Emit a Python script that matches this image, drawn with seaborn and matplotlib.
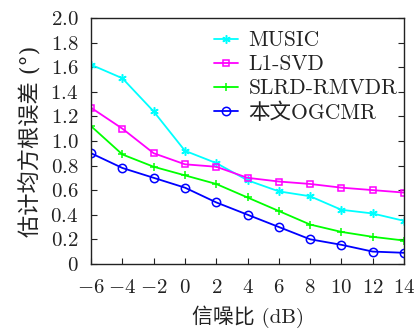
import matplotlib
matplotlib.use("Agg")
import matplotlib.pyplot as plt
import seaborn as sns
import pandas as pd

snr = [-6, -4, -2, 0, 2, 4, 6, 8, 10, 12, 14]
music = [1.62, 1.51, 1.24, 0.92, 0.82, 0.68, 0.59, 0.55, 0.44, 0.41, 0.35]
l1svd = [1.27, 1.10, 0.90, 0.81, 0.79, 0.70, 0.67, 0.65, 0.62, 0.60, 0.58]
slrd = [1.12, 0.89, 0.79, 0.72, 0.65, 0.54, 0.43, 0.32, 0.26, 0.22, 0.19]
ogcmr = [0.90, 0.78, 0.70, 0.62, 0.50, 0.40, 0.30, 0.20, 0.155, 0.10, 0.09]
series_names = ["MUSIC", "L1-SVD", "SLRD-RMVDR", "本文OGCMR"]
xtick_vals = [-6, -4, -2, 0, 2, 4, 6, 8, 10, 12, 14]
xtick_labels = ["$-6$", "$-4$", "$-2$", "$0$", "$2$", "$4$", "$6$", "$8$", "$10$", "$12$", "$14$"]
ytick_vals = [0, 0.2, 0.4, 0.6, 0.8, 1.0, 1.2, 1.4, 1.6, 1.8, 2.0]
ytick_labels = ["$0$", "$0.2$", "$0.4$", "$0.6$", "$0.8$", "$1.0$", "$1.2$", "$1.4$", "$1.6$", "$1.8$", "$2.0$"]

sns.set_theme(style="ticks")
plt.rcParams["font.family"] = ["cmr10", "Noto Sans CJK SC", "DejaVu Serif"]
plt.rcParams["mathtext.fontset"] = "cm"
plt.rcParams["axes.unicode_minus"] = False

df = pd.DataFrame({
    "snr": snr * 4,
    "rmse": music + l1svd + slrd + ogcmr,
    "method": [series_names[0]] * 11 + [series_names[1]] * 11 + [series_names[2]] * 11 + [series_names[3]] * 11,
})

fig = plt.figure(figsize=(4.16, 3.34), dpi=100)
ax = fig.add_axes([0.219, 0.21, 0.752, 0.736])

colors = ["#00FFFF", "#FF00FF", "#00FF00", "#0000FF"]
markers = [(6, 2, 0), "s", "+", "o"]
for name, c, m in zip(series_names, colors, markers):
    sub = df[df["method"] == name]
    sns.lineplot(data=sub, x="snr", y="rmse", ax=ax, color=c, marker=m,
                 markersize=6 if m != "s" else 5, markerfacecolor="none",
                 markeredgecolor=c, markeredgewidth=1.1, linewidth=1.3,
                 label=name)

ax.set_xlim(-6, 14)
ax.set_ylim(0, 2.0)
ax.set_xticks(xtick_vals)
ax.set_xticklabels(xtick_labels)
ax.set_yticks(ytick_vals)
ax.set_yticklabels(ytick_labels)
ax.tick_params(axis="both", direction="in", labelsize=15, length=4, width=0.8,
               colors="#222222")
ax.tick_params(axis="x", pad=11)
ax.tick_params(axis="y", right=True, left=True, pad=9)
ax.tick_params(axis="x", top=False)
for sp in ax.spines.values():
    sp.set_linewidth(1.0)
    sp.set_color("#222222")

ax.set_xlabel("信噪比 (dB)", fontsize=15, color="#222222", labelpad=6)
ax.set_ylabel("估计均方根误差 (°)", fontsize=16, color="#222222", labelpad=6,
              family=["DejaVu Serif", "Noto Sans CJK SC"])

leg = ax.legend(loc="upper right", frameon=False, fontsize=15.5, handlelength=1.1,
                handletextpad=0.5, labelspacing=0.2, borderaxespad=0.2,
                bbox_to_anchor=(1.02, 1.0))
for t in leg.get_texts():
    t.set_color("#222222")

fig.savefig("out.png", dpi=100)
